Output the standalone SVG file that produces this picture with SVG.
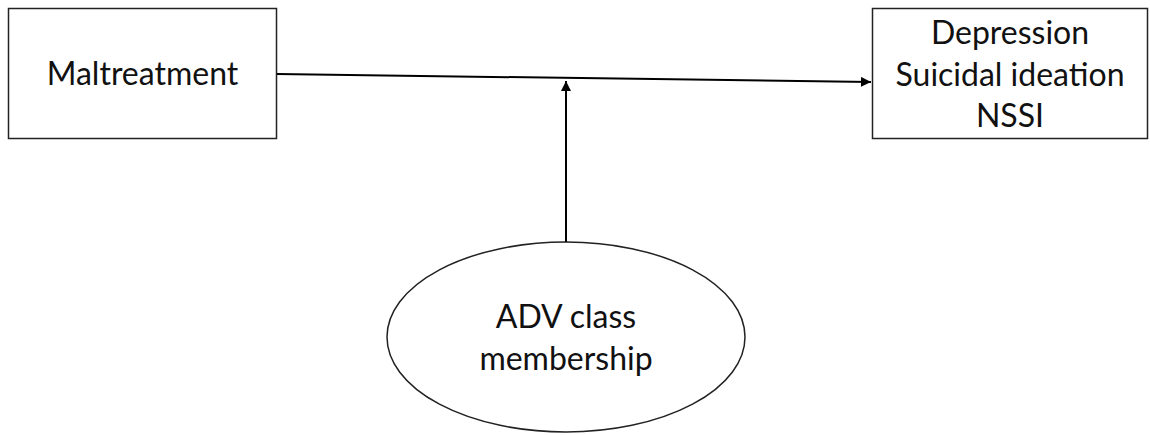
<svg xmlns="http://www.w3.org/2000/svg" width="1150" height="435" viewBox="0 0 1150 435">
<defs>
<style>
.box{fill:#fff;stroke:#222;stroke-width:1.5}
.edge{stroke:#000;stroke-width:2;fill:none}
.t{font-family:Lato,"Open Sans",sans-serif;font-size:32px;fill:#111;text-anchor:middle}
</style>
<marker id="ah" viewBox="0 0 10 10" refX="10" refY="5" markerWidth="5" markerHeight="5" orient="auto" markerUnits="strokeWidth">
<path d="M0,0 L10,5 L0,10 Z" fill="#000"/>
</marker>
</defs>
<rect width="1150" height="435" fill="#fff"/>
<g id="maltreatment">
<rect class="box" x="8.5" y="8.5" width="268" height="130"/>
<text class="t" x="142.5" y="85">Maltreatment</text>
</g>
<g id="outcomes">
<rect class="box" x="872.5" y="8.5" width="275" height="130"/>
<text class="t" x="1010" y="44">Depression</text>
<text class="t" x="1010" y="86">Suicidal ideation</text>
<text class="t" x="1010" y="127">NSSI</text>
</g>
<g id="adv">
<ellipse class="box" cx="566" cy="337" rx="179" ry="95"/>
<text class="t" x="566" y="328">ADV class</text>
<text class="t" x="566" y="370">membership</text>
</g>
<g id="connectors">
<line class="edge" x1="277" y1="74" x2="871" y2="82" marker-end="url(#ah)"/>
<line class="edge" x1="566" y1="242" x2="566" y2="81" marker-end="url(#ah)"/>
</g>
</svg>
